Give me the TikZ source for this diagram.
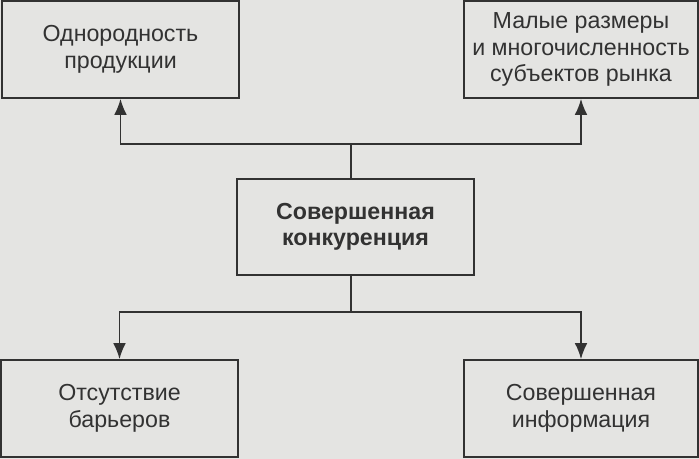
\documentclass[tikz,border=0pt]{standalone}
\usepackage{fontspec}
\setmainfont{Liberation Sans}
\usetikzlibrary{arrows.meta}
\definecolor{bg}{RGB}{228,228,226}
\definecolor{ink}{RGB}{50,50,50}
\tikzset{
  box/.style={draw=ink, line width=1.3pt, fill=bg, text=ink, align=center,
    inner sep=0pt, font=\fontsize{17.4}{19.8}\selectfont},
  conn/.style={draw=ink, line width=1.2pt},
  arr/.style={conn, -{Latex[length=12pt,width=9.5pt]}}
}
\begin{document}
\begin{tikzpicture}[x=0.75pt,y=-0.75pt]
\fill[bg] (0,0) rectangle (699,459);
\useasboundingbox (0,0) rectangle (699,459);
\node[box, minimum width=237*0.75pt, minimum height=97*0.75pt] (tl) at (120.5,49.5) {Однородность\\продукции};
\node[box, minimum width=234*0.75pt, minimum height=97*0.75pt] (tr) at (581,49.5) {Малые размеры\\и многочисленность\\субъектов рынка};
\node[box, minimum width=237*0.75pt, minimum height=96*0.75pt, font=\fontsize{17.4}{19.8}\selectfont\bfseries] (c) at (355.5,227) {Совершенная\\конкуренция};
\node[box, minimum width=237*0.75pt, minimum height=97*0.75pt] (bl) at (119.5,408.5) {Отсутствие\\барьеров};
\node[box, minimum width=234*0.75pt, minimum height=97*0.75pt] (br) at (581,408.5) {Совершенная\\информация};
\coordinate (jt) at (351,144);
\coordinate (jb) at (351,312);
\draw[conn] (c.north -| jt) -- (jt);
\draw[arr] (jt) -| (tl.south);
\draw[arr] (jt) -| (tr.south);
\draw[conn] (c.south -| jb) -- (jb);
\draw[arr] (jb) -| (bl.north);
\draw[arr] (jb) -| (br.north);
\end{tikzpicture}
\end{document}
